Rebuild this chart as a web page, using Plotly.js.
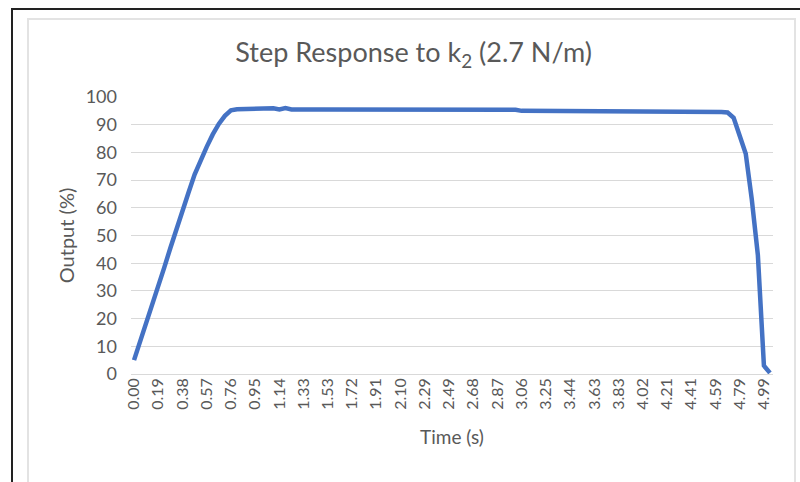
<!DOCTYPE html>
<html>
<head>
<meta charset="utf-8">
<script src="https://cdn.plot.ly/plotly-3.0.1.min.js"></script>
<style>
  html, body { margin: 0; padding: 0; background: #ffffff; }
  #wrap { position: relative; width: 800px; height: 482px; overflow: hidden; background: #ffffff; }
  #frameOuter { position: absolute; left: 11px; top: 8px; width: 800px; height: 500px;
    border-top: 2px solid #222222; border-left: 2px solid #222222; box-sizing: border-box; }
  #frameInner { position: absolute; left: 27px; top: 18px; width: 769px; height: 480px;
    border: 2px solid #e3e3e3; box-sizing: border-box; }
  #chart { position: absolute; left: 0; top: 0; width: 800px; height: 482px; }
</style>
</head>
<body>
<div id="wrap">
  <div id="frameOuter"></div>
  <div id="frameInner"></div>
  <div id="chart"></div>
</div>
<script>
// Time samples (s) — category axis, as in the original sheet
const times = [
  "0.00","0.05","0.10","0.14",
  "0.19","0.24","0.29","0.33",
  "0.38","0.43","0.48","0.52",
  "0.57","0.62","0.67","0.71",
  "0.76","0.81","0.86","0.90",
  "0.95","1.00","1.05","1.09",
  "1.14","1.19","1.24","1.28",
  "1.33","1.38","1.43","1.48",
  "1.53","1.58","1.63","1.67",
  "1.72","1.77","1.82","1.86",
  "1.91","1.96","2.01","2.05",
  "2.10","2.15","2.20","2.24",
  "2.29","2.34","2.39","2.44",
  "2.49","2.54","2.59","2.63",
  "2.68","2.73","2.78","2.82",
  "2.87","2.92","2.97","3.01",
  "3.06","3.11","3.16","3.20",
  "3.25","3.30","3.35","3.39",
  "3.44","3.49","3.54","3.58",
  "3.63","3.68","3.73","3.78",
  "3.83","3.88","3.93","3.97",
  "4.02","4.07","4.12","4.16",
  "4.21","4.26","4.31","4.36",
  "4.41","4.46","4.50","4.55",
  "4.59","4.64","4.69","4.74",
  "4.79","4.84","4.89","4.94",
  "4.99","5.04"
];

// Output (%)
const output = [
  5.0, 11.5, 18.5, 25.0, 31.5, 38.5, 45.5, 52.5, 58.5, 65.5,
  72.0, 77.5, 82.0, 86.5, 90.3, 93.2, 95.2,
  95.6, 95.6, 95.9, 96.0, 96.0, 96.0, 95.9, 95.5, 96.0, 95.5, 95.6,
  95.5, 95.5, 95.5, 95.5, 95.5, 95.5, 95.5, 95.5, 95.5, 95.5,
  95.5, 95.5, 95.5, 95.5, 95.5, 95.5, 95.5, 95.5, 95.5, 95.5,
  95.5, 95.5, 95.5, 95.5, 95.5, 95.5, 95.5, 95.5, 95.5, 95.5,
  95.5, 95.5, 95.5, 95.5, 95.5, 95.4,
  95.0, 95.0, 95.0, 95.0, 95.0, 95.0, 95.0, 95.0, 95.0, 95.0,
  95.0, 95.0, 95.0, 95.0, 95.0, 95.0, 95.0, 95.0, 95.0, 95.0,
  95.0, 95.0, 95.0, 95.0, 95.0, 95.0, 95.0, 95.0,
  94.8,
  94.6, 94.6, 94.6, 94.6, 94.6, 94.4,
  92.5, 86.0, 79.5, 63.0, 43.0, 3.0, 0.4
];

// Tick labels shown on the time axis
const timeTicks = [
  "0.00","0.19","0.38","0.57","0.76","0.95","1.14","1.33","1.53","1.72",
  "1.91","2.10","2.29","2.49","2.68","2.87","3.06","3.25","3.44","3.63",
  "3.83","4.02","4.21","4.41","4.59","4.79","4.99"
];

const fontFam = "Lato, 'Open Sans', sans-serif";

const trace = {
  type: "scatter",
  mode: "lines",
  x: times,
  y: output,
  line: { color: "#4472C4", width: 4.5, shape: "linear" },
  hoverinfo: "x+y"
};

const layout = {
  width: 800,
  height: 482,
  paper_bgcolor: "rgba(0,0,0,0)",
  plot_bgcolor: "rgba(0,0,0,0)",
  margin: { l: 131, r: 27, t: 97, b: 108 },
  showlegend: false,
  title: {
    text: "Step Response to k<sub>2</sub> (2.7 N/m)",
    font: { family: fontFam, size: 27, color: "#595959" },
    x: 0.517, xanchor: "center",
    y: 0.89, yanchor: "middle"
  },
  xaxis: {
    type: "category",
    range: [-0.5, times.length - 0.5],
    tickmode: "array",
    tickvals: timeTicks,
    ticktext: timeTicks,
    tickangle: -90,
    showgrid: false,
    zeroline: false,
    showline: false,
    ticks: "",
    tickfont: { family: fontFam, size: 16, color: "#595959" },
    title: { text: "Time (s)", font: { family: fontFam, size: 19, color: "#595959" }, standoff: 21 }
  },
  yaxis: {
    range: [0, 100],
    dtick: 10,
    tick0: 0,
    showgrid: true,
    gridcolor: "#d9d9d9",
    gridwidth: 1,
    zeroline: true,
    zerolinecolor: "#d9d9d9",
    zerolinewidth: 1,
    showline: false,
    ticks: "",
    ticklabelstandoff: 13,
    tickfont: { family: fontFam, size: 18, color: "#595959" },
    title: { text: "Output (%)", font: { family: fontFam, size: 20, color: "#595959" }, standoff: 5 }
  }
};

Plotly.newPlot("chart", [trace], layout, { displayModeBar: false, staticPlot: true });
</script>
</body>
</html>
